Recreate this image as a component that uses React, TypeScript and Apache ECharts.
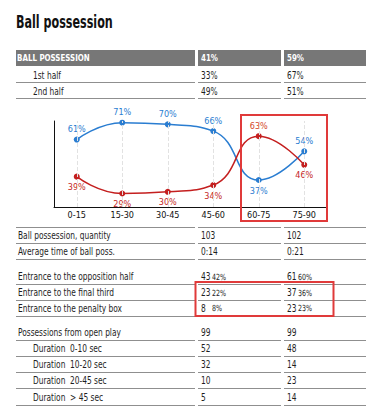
import React, { useEffect, useRef } from "react";
import * as echarts from "echarts";

const title = "Ball possession";
const headerRow = ["BALL POSSESSION", "41%", "59%"];
const halfRows = [
  ["1st half", "33%", "67%"],
  ["2nd half", "49%", "51%"],
];
const categories = ["0-15", "15-30", "30-45", "45-60", "60-75", "75-90"];
const blueValues = [61, 71, 70, 66, 37, 54];
const redValues = [39, 29, 30, 34, 63, 46];
const blueLabelBelow = [false, false, false, false, true, false];
const redLabelBelow = [true, true, true, true, false, true];
const quantityRows = [
  ["Ball possession, quantity", "103", "102"],
  ["Average time of ball poss.", "0:14", "0:21"],
];
const entranceRows = [
  ["Entrance to the opposition half", "43", "42%", "61", "60%"],
  ["Entrance to the final third", "23", "22%", "37", "36%"],
  ["Entrance to the penalty box", "8", "8%", "23", "23%"],
];
const openPlayRows = [
  ["Possessions from open play", "99", "99"],
  ["Duration  0-10 sec", "52", "48"],
  ["Duration  10-20 sec", "32", "14"],
  ["Duration  20-45 sec", "10", "23"],
  ["Duration  > 45 sec", "5", "14"],
];

const FONT = '"Liberation Sans Narrow", "DejaVu Sans Condensed", sans-serif';
const BLUE = "#2a7dd1";
const RED = "#c41f1f";
const TEXT = "#1e1e1e";
const LINE = "#8f8f8f";
const COLS = [
  [16, 195],
  [198, 281],
  [284, 366],
];

function txt(
  text: string,
  x: number,
  y: number,
  size = 10,
  weight = "normal",
  fill = TEXT,
  sx = 0.83
) {
  return {
    type: "text",
    silent: true,
    x,
    y,
    scaleX: sx,
    style: {
      text,
      x: 0,
      y: 0,
      fill,
      font: `${weight} ${size}px ${FONT}`,
      align: "left",
      verticalAlign: "middle",
    },
  };
}

function rowLines(y: number) {
  return COLS.map(([a, b]) => ({
    type: "line",
    silent: true,
    shape: { x1: a, y1: Math.round(y) + 0.5, x2: b, y2: Math.round(y) + 0.5 },
    style: { stroke: LINE, lineWidth: 1 },
  }));
}

export default function App() {
  const ref = useRef<HTMLDivElement>(null);
  useEffect(() => {
    if (!ref.current) return;
    const chart = echarts.init(ref.current, null, { renderer: "svg" });
    const g: any[] = [];

    g.push(txt(title, 16, 22, 17, "bold", "#111", 0.73));

    // header bar
    COLS.forEach(([a, b]) => {
      g.push({
        type: "rect",
        silent: true,
        shape: { x: a, y: 50, width: b - a, height: 16 },
        style: { fill: "#777777" },
      });
    });
    g.push(txt(headerRow[0], 17, 58, 9.5, "bold", "#ffffff"));
    g.push(txt(headerRow[1], 201, 58, 9.5, "bold", "#ffffff"));
    g.push(txt(headerRow[2], 287, 58, 9.5, "bold", "#ffffff"));

    const halfY = [75, 91];
    halfRows.forEach((r, i) => {
      g.push(txt(r[0], 33, halfY[i], 10));
      g.push(txt(r[1], 201, halfY[i], 10));
      g.push(txt(r[2], 287, halfY[i], 10));
      g.push(...rowLines(halfY[i] + 7));
    });

    // line above quantity rows
    g.push(...rowLines(227));
    const qY = [235.5, 251.5];
    quantityRows.forEach((r, i) => {
      g.push(txt(r[0], 18, qY[i], 10));
      g.push(txt(r[1], 201, qY[i], 10));
      g.push(txt(r[2], 287, qY[i], 10));
      g.push(...rowLines(qY[i] + 7.5));
    });

    const eY = [276.5, 292.5, 308];
    entranceRows.forEach((r, i) => {
      g.push(txt(r[0], 18, eY[i], 10));
      g.push(txt(r[1], 201, eY[i], 10));
      g.push(txt(r[2], 212, eY[i] + 0.5, 8.5));
      g.push(txt(r[3], 287, eY[i], 10));
      g.push(txt(r[4], 298, eY[i] + 0.5, 8.5));
      g.push(...rowLines(eY[i] + 7.5));
    });

    const oY = [332.5, 348.5, 364.5, 380.5, 397];
    openPlayRows.forEach((r, i) => {
      g.push(txt(r[0], i === 0 ? 18 : 33, oY[i], 10));
      g.push(txt(r[1], 201, oY[i], 10));
      g.push(txt(r[2], 287, oY[i], 10));
      g.push(...rowLines(oY[i] + 7.5));
    });

    // highlight boxes
    g.push({
      type: "rect",
      silent: true,
      z: 100,
      shape: { x: 241, y: 115, width: 86, height: 106 },
      style: { fill: "none", stroke: "#e03a3a", lineWidth: 2 },
    });
    g.push({
      type: "rect",
      silent: true,
      z: 100,
      shape: { x: 195.5, y: 282, width: 138, height: 34 },
      style: { fill: "none", stroke: "#e03a3a", lineWidth: 2 },
    });

    const makeData = (vals: number[], below: boolean[], color: string) =>
      vals.map((v, i) => ({
        value: v,
        label: {
          position: below[i] ? "bottom" : "top",
          color: i === 4 && color === RED ? "#d4452a" : color,
        },
      }));

    chart.setOption({
      animation: false,
      backgroundColor: "#ffffff",
      grid: { left: 54, top: 121, width: 273, height: 86, containLabel: false },
      xAxis: {
        type: "category",
        data: categories,
        boundaryGap: true,
        axisLine: { lineStyle: { color: "#111", width: 1 } },
        axisTick: { show: false },
        axisLabel: { color: "#111", fontSize: 9, fontFamily: FONT, margin: 3 },
        splitLine: { show: false },
      },
      yAxis: {
        type: "value",
        min: 21,
        max: 72,
        axisLine: { show: true, lineStyle: { color: "#111", width: 1 } },
        axisTick: { show: false },
        axisLabel: { show: false },
        splitLine: { show: false },
      },
      series: [
        {
          type: "line",
          name: "blue",
          smooth: 0.5,
          data: makeData(blueValues, blueLabelBelow, BLUE),
          symbol: "circle",
          symbolSize: 6,
          itemStyle: { color: BLUE },
          lineStyle: { color: BLUE, width: 1.5 },
          label: { show: true, formatter: "{c}%", fontSize: 9, fontFamily: FONT, distance: 3 },
          z: 3,
          markLine: {
            silent: true,
            symbol: "none",
            label: { show: false },
            lineStyle: { color: "#e2e2e2", type: "dashed", width: 1 },
            data: categories.map((c) => ({ xAxis: c })),
          },
        },
        {
          type: "line",
          name: "red",
          smooth: 0.5,
          data: makeData(redValues, redLabelBelow, RED),
          symbol: "circle",
          symbolSize: 6,
          itemStyle: { color: RED },
          lineStyle: { color: RED, width: 1.5 },
          label: { show: true, formatter: "{c}%", fontSize: 9, fontFamily: FONT, distance: 3 },
          z: 3,
        },
      ],
      graphic: g,
    });
    return () => chart.dispose();
  }, []);
  return (
    <div
      ref={ref}
      style={{ position: "fixed", left: 0, top: 0, width: 392, height: 420, background: "#fff" }}
    />
  );
}
